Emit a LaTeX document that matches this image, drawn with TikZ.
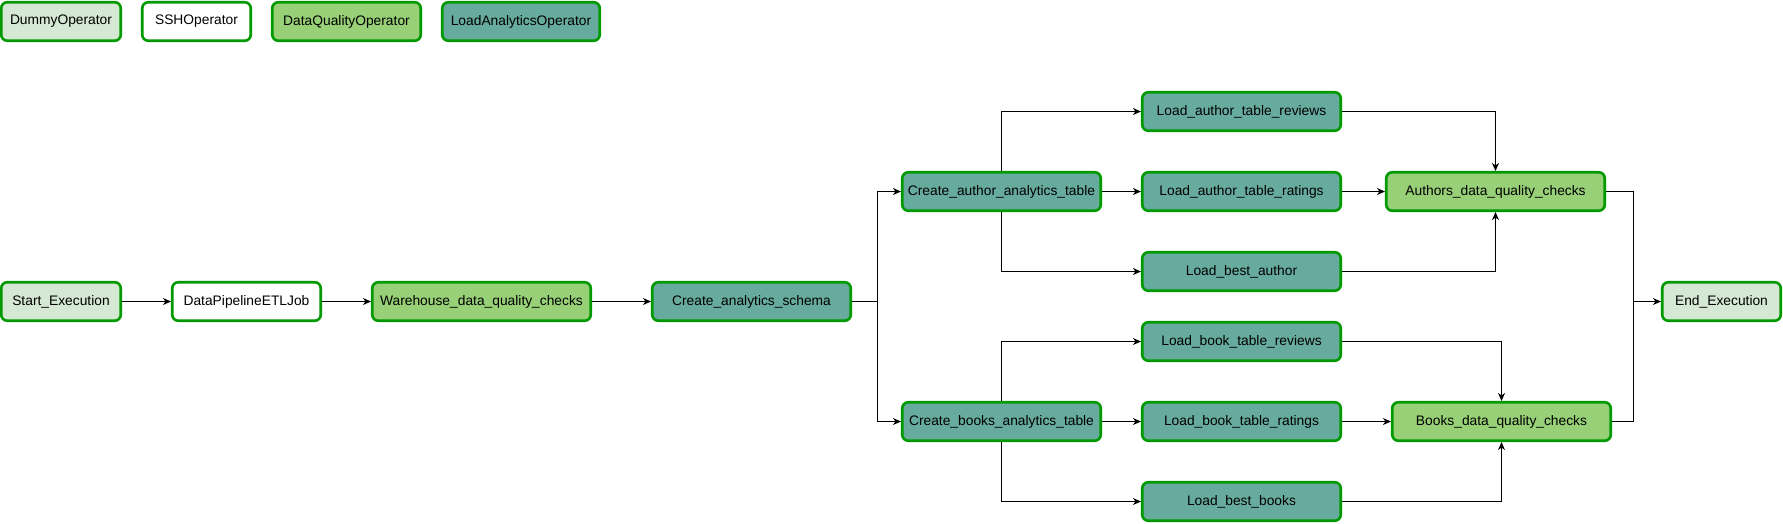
\documentclass[tikz,border=0pt]{standalone}
\usepackage{xcolor}
\usepackage{fontspec}
\setmainfont{Liberation Sans}
\usetikzlibrary{arrows.meta}

\definecolor{opborder}{HTML}{009900}
\definecolor{dummyfill}{HTML}{D5E8D4}
\definecolor{dqfill}{HTML}{97D077}
\definecolor{loadfill}{HTML}{67AB9F}

\tikzset{
    opbox/.style={draw=opborder, line width=2.6pt, rounded corners=6pt,
        minimum height=38.5pt, inner sep=0pt, align=center,
        font=\fontsize{13.8}{16}\selectfont},
    dummyop/.style={opbox, fill=dummyfill},
    sshop/.style={opbox, fill=white},
    dqop/.style={opbox, fill=dqfill},
    loadop/.style={opbox, fill=loadfill},
    flow/.style={draw=black, line width=1pt, -{Stealth[length=8pt,width=7pt,inset=2.5pt]}},
    link/.style={draw=black, line width=1pt}
}

\begin{document}
\begin{tikzpicture}[x=1pt, y=-1pt]
                \useasboundingbox (0,0) rectangle (1783,523);
                % legend
                \node[dummyop, minimum width=119.5pt] (dummyleg) at (61,21.5) {DummyOperator};
                \node[sshop, minimum width=108.5pt] (sshleg) at (196.5,21.5) {SSHOperator};
                \node[dqop, minimum width=148.5pt] (dqleg) at (346.5,21.5) {DataQualityOperator};
                \node[loadop, minimum width=157.5pt] (loadleg) at (521,21.5) {LoadAnalyticsOperator};
                % main row
                \node[dummyop, minimum width=119.5pt] (start) at (61,301.5) {Start\_Execution};
                \node[sshop, minimum width=148.5pt] (etljob) at (246.5,301.5) {DataPipelineETLJob};
                \node[dqop, minimum width=218.5pt] (whcheck) at (481.5,301.5) {Warehouse\_data\_quality\_checks};
                \node[loadop, minimum width=198.5pt] (schema) at (751.5,301.5) {Create\_analytics\_schema};
                % tables
                \node[loadop, minimum width=198.5pt] (authtable) at (1001.5,191.5) {Create\_author\_analytics\_table};
                \node[loadop, minimum width=198.5pt] (booktable) at (1001.5,421.5) {Create\_books\_analytics\_table};
                % loads
                \node[loadop, minimum width=198.5pt] (authreviews) at (1241.5,111.5) {Load\_author\_table\_reviews};
                \node[loadop, minimum width=198.5pt] (authratings) at (1241.5,191.5) {Load\_author\_table\_ratings};
                \node[loadop, minimum width=198.5pt] (bestauth) at (1241.5,271.5) {Load\_best\_author};
                \node[loadop, minimum width=198.5pt] (bookreviews) at (1241.5,341.5) {Load\_book\_table\_reviews};
                \node[loadop, minimum width=198.5pt] (bookratings) at (1241.5,421.5) {Load\_book\_table\_ratings};
                \node[loadop, minimum width=198.5pt] (bestbooks) at (1241.5,501.5) {Load\_best\_books};
                % checks
                \node[dqop, minimum width=218.5pt] (authcheck) at (1495.5,191.5) {Authors\_data\_quality\_checks};
                \node[dqop, minimum width=218.5pt] (bookcheck) at (1501.5,421.5) {Books\_data\_quality\_checks};
                \node[dummyop, minimum width=118.5pt] (finish) at (1721.5,301.5) {End\_Execution};
                \coordinate (split) at (877,301.5);
                \coordinate (merge) at (1633,301.5);
                % connectors
                \draw[flow] (start) -- (etljob);
                \draw[flow] (etljob) -- (whcheck);
                \draw[flow] (whcheck) -- (schema);
                \draw[link] (schema.east) -- (split);
                \draw[flow] (split) |- (authtable.west);
                \draw[flow] (split) |- (booktable.west);
                \draw[flow] (authtable.north) |- (authreviews.west);
                \draw[flow] (authtable) -- (authratings);
                \draw[flow] (authtable.south) |- (bestauth.west);
                \draw[flow] (booktable.north) |- (bookreviews.west);
                \draw[flow] (booktable) -- (bookratings);
                \draw[flow] (booktable.south) |- (bestbooks.west);
                \draw[flow] (authreviews.east) -| (authcheck.north);
                \draw[flow] (authratings) -- (authcheck);
                \draw[flow] (bestauth.east) -| (authcheck.south);
                \draw[flow] (bookreviews.east) -| (bookcheck.north);
                \draw[flow] (bookratings) -- (bookcheck);
                \draw[flow] (bestbooks.east) -| (bookcheck.south);
                \draw[link] (authcheck.east) -| (merge);
                \draw[link] (bookcheck.east) -| (merge);
                \draw[flow] (merge) -- (finish.west);
            \end{tikzpicture}
\end{document}
